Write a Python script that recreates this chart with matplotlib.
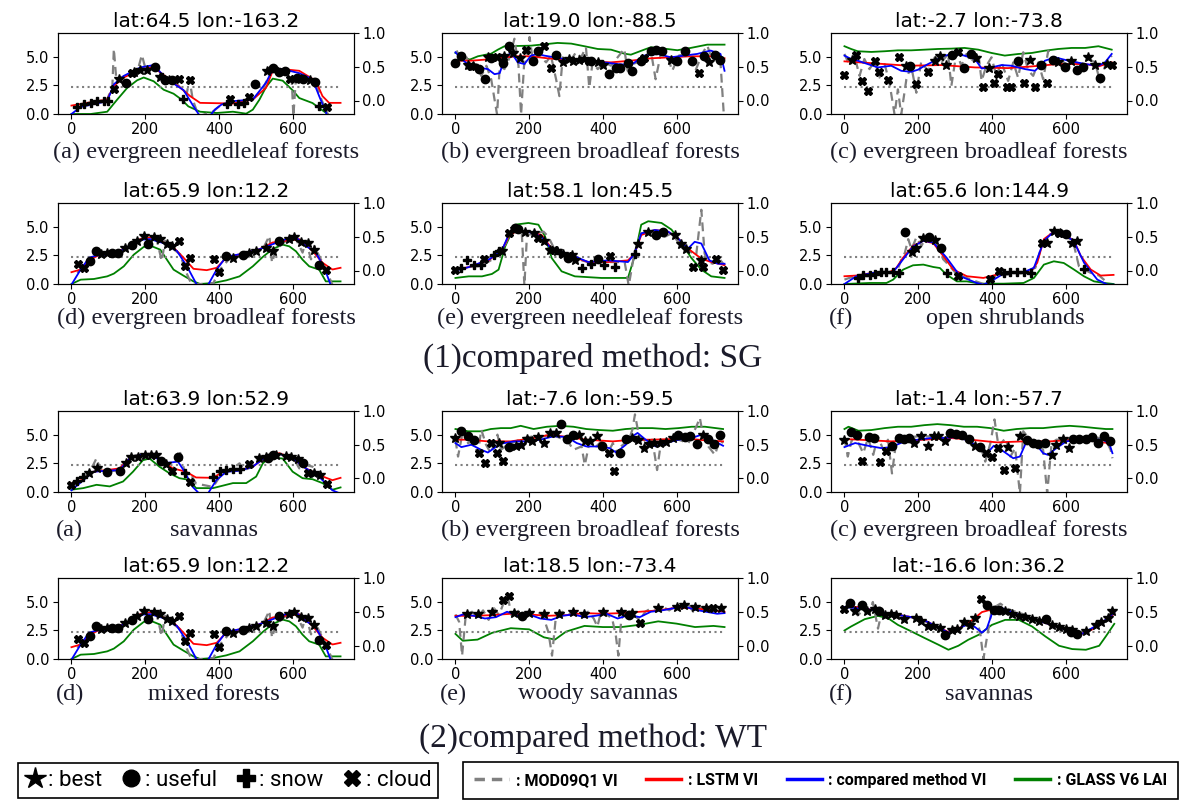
import matplotlib
matplotlib.use('Agg')
import matplotlib.pyplot as plt
from matplotlib.lines import Line2D

# ---- (1) SG panels: (day, value) pairs; VI on the right axis, LAI on the left ----
sg_a_mod = [(16, -0.11), (43, -0.035), (79, -0.01), (97, 0.015), (111, 0.215), (115, 0.765), (122, 0.29), (135, 0.34),
            (155, 0.39), (178, 0.415), (191, 0.675), (200, 0.49), (223, 0.49), (241, 0.39), (259, 0.315), (277, 0.29),
            (299, 0.175), (313, 0.105), (320, 0.325), (329, 0.015), (345, -0.235), (385, -0.16), (403, -0.075),
            (438, -0.035), (492, 0.015), (520, 0.175), (539, 0.415), (557, 0.465), (584, 0.44), (597, 0.39),
            (602, -0.235), (609, 0.34), (638, 0.315), (665, 0.24), (678, 0.015), (696, -0.21), (710, -0.235)]
sg_a_lstm = [(0, -0.075), (97, 0.015), (115, 0.215), (142, 0.34), (187, 0.465), (223, 0.49), (259, 0.34), (295, 0.19),
             (322, 0.065), (349, -0.035), (438, -0.045), (492, 0.015), (528, 0.19), (546, 0.44), (573, 0.465),
             (618, 0.44), (663, 0.29), (681, 0.065), (699, -0.035), (730, -0.035)]
sg_a_cmp = [(0, -0.2), (25, -0.095), (97, -0.01), (115, 0.24), (142, 0.365), (187, 0.49), (223, 0.525), (259, 0.315),
            (304, 0.155), (331, -0.085), (349, -0.235), (371, -0.26), (389, -0.135), (407, -0.06), (438, -0.01),
            (492, 0.015), (528, 0.265), (546, 0.465), (573, 0.465), (618, 0.405), (654, 0.315), (672, 0.065),
            (695, -0.235), (730, -0.26)]
sg_a_lai = [(0, 0), (52, 0), (97, 0.2), (124, 1.26), (151, 2.28), (178, 2.95), (196, 3.2), (223, 2.87), (250, 2.13),
            (277, 1.78), (299, 1.26), (317, 0.67), (349, 0.2), (394, 0.09), (438, 0.2), (474, 0.03), (492, 0.38),
            (510, 1.26), (528, 2.37), (546, 3.1), (573, 2.92), (600, 2.08), (618, 1.4), (654, 0.96), (672, 0.53),
            (695, 0)]
sg_a_best = [(129, 0.315), (169, 0.415), (187, 0.445), (205, 0.45), (241, 0.355), (264, 0.3), (530, 0.44),
             (548, 0.465), (624, 0.315), (647, 0.305)]
sg_a_useful = [(147, 0.265), (226, 0.49), (255, 0.3), (273, 0.3), (498, 0.24), (548, 0.48), (564, 0.415),
               (579, 0.43), (611, 0.33), (629, 0.315), (660, 0.275)]
sg_a_snow = [(16, -0.095), (34, -0.045), (52, -0.035), (70, -0.01), (88, -0.01), (99, -0.01), (246, 0.355),
             (303, 0.015), (422, -0.045), (451, -0.045), (467, -0.035), (672, -0.075)]
sg_a_cloud = [(115, 0.165), (164, 0.405), (291, 0.315), (322, 0.305), (431, 0.015), (483, 0.055), (594, 0.315),
              (692, -0.095)]

sg_b_mod = [(3, 0.74), (16, 0.59), (30, 0.64), (43, 0.49), (57, 0.54), (70, 0.365), (84, 0.515), (97, 0.315),
            (106, 0.015), (113, -0.21), (120, 0.515), (133, 0.465), (147, 0.64), (160, 0.915), (171, 0.515),
            (178, -0.21), (186, 0.515), (195, 0.665), (201, 0.94), (210, 0.59), (228, 0.665), (246, 0.565),
            (259, 0.665), (273, 0.315), (282, 0.065), (291, 0.64), (309, 0.565), (327, 0.715), (341, 0.64),
            (354, 0.79), (363, 0.19), (372, 0.565), (386, 0.465), (404, 0.565), (422, 0.515), (440, 0.64),
            (458, 0.765), (467, 0.44), (480, 0.54), (494, 0.565), (512, 0.64), (530, 0.74), (543, 0.315),
            (557, 0.69), (575, 0.665), (588, 0.44), (606, 0.665), (624, 0.69), (638, 0.64), (651, 0.44),
            (669, 0.69), (683, 0.815), (696, 0.615), (710, 0.715), (719, 0.565), (728, -0.21)]
sg_b_lstm = [(0, 0.59), (43, 0.59), (79, 0.605), (133, 0.64), (169, 0.655), (205, 0.655), (250, 0.625), (295, 0.605),
             (331, 0.605), (376, 0.575), (422, 0.565), (476, 0.59), (530, 0.625), (584, 0.64), (638, 0.655),
             (692, 0.655), (730, 0.625)]
sg_b_cmp = [(0, 0.715), (16, 0.615), (39, 0.515), (61, 0.49), (88, 0.465), (106, 0.39), (120, 0.405), (133, 0.615),
            (151, 0.715), (169, 0.565), (187, 0.54), (205, 0.665), (223, 0.69), (241, 0.665), (268, 0.64),
            (295, 0.615), (331, 0.615), (367, 0.59), (403, 0.565), (440, 0.54), (476, 0.525), (512, 0.665),
            (548, 0.69), (584, 0.64), (620, 0.665), (656, 0.69), (692, 0.74), (719, 0.69), (730, 0.44)]
sg_b_lai = [(0, 5.35), (16, 5.29), (25, 4.91), (39, 4.77), (61, 5.06), (97, 5.29), (115, 5.64), (133, 5.94),
            (205, 5.99), (277, 6.23), (314, 6.17), (350, 5.94), (386, 5.7), (422, 5.64), (458, 5.29), (476, 5.2),
            (512, 5.64), (530, 5.85), (566, 5.73), (602, 5.59), (638, 5.79), (683, 6.08), (730, 6.08)]
sg_b_best = [(34, 0.525), (48, 0.515), (88, 0.64), (133, 0.655), (156, 0.705), (174, 0.625), (293, 0.575),
             (309, 0.615), (318, 0.59), (336, 0.605), (350, 0.615), (386, 0.565), (399, 0.53), (584, 0.6),
             (687, 0.575)]
sg_b_useful = [(0, 0.555), (16, 0.655), (64, 0.465), (81, 0.315), (97, 0.63), (129, 0.555), (145, 0.805),
               (210, 0.58), (225, 0.73), (273, 0.68), (368, 0.58), (417, 0.39), (435, 0.48), (447, 0.48),
               (467, 0.555), (480, 0.43), (503, 0.58), (530, 0.73), (543, 0.755), (561, 0.73), (602, 0.59),
               (624, 0.73), (642, 0.59), (674, 0.665), (704, 0.68), (719, 0.605)]
sg_b_snow = []
sg_b_cloud = [(43, 0.515), (112, 0.64), (192, 0.755), (240, 0.805), (258, 0.48), (363, 0.59), (512, 0.625),
              (660, 0.405)]

sg_c_mod = [(0, 0.69), (14, 0.515), (27, 0.665), (41, 0.365), (54, 0.615), (68, 0.465), (82, 0.59), (95, 0.34),
            (109, 0.54), (122, 0.265), (136, -0.21), (145, 0.165), (154, -0.21), (168, 0.315), (181, 0.515),
            (195, 0.115), (208, 0.565), (227, 0.44), (245, 0.64), (263, 0.565), (281, 0.69), (290, 0.215),
            (304, 0.715), (317, 0.515), (331, 0.69), (344, 0.565), (363, 0.715), (372, 0.29), (385, 0.515),
            (399, 0.64), (412, 0.365), (426, 0.565), (444, 0.29), (458, 0.565), (471, 0.34), (485, 0.715),
            (499, 0.44), (512, 0.365), (526, 0.565), (539, 0.315), (553, 0.74), (571, 0.565), (589, 0.59),
            (607, 0.515), (626, 0.565), (644, 0.54), (662, 0.615), (680, 0.565), (694, 0.265), (707, 0.515),
            (725, 0.665)]
sg_c_lstm = [(0, 0.58), (82, 0.55), (172, 0.515), (263, 0.525), (354, 0.49), (444, 0.48), (508, 0.505), (580, 0.54),
             (653, 0.54), (689, 0.505), (725, 0.565)]
sg_c_cmp = [(0, 0.665), (18, 0.615), (36, 0.59), (63, 0.54), (91, 0.49), (127, 0.515), (154, 0.44), (181, 0.425),
            (199, 0.455), (218, 0.515), (245, 0.59), (272, 0.665), (299, 0.69), (326, 0.665), (354, 0.615),
            (372, 0.475), (399, 0.49), (426, 0.525), (453, 0.515), (490, 0.465), (517, 0.44), (544, 0.59),
            (571, 0.64), (607, 0.59), (653, 0.54), (689, 0.515), (707, 0.565), (725, 0.69)]
sg_c_lai = [(0, 5.94), (18, 5.7), (36, 5.5), (73, 5.44), (109, 5.5), (145, 5.58), (181, 5.58), (218, 5.64),
            (254, 5.7), (290, 5.73), (326, 5.79), (363, 5.64), (399, 5.35), (435, 5.12), (471, 5.26), (508, 5.35),
            (544, 5.55), (580, 5.7), (616, 5.79), (653, 5.79), (689, 5.94), (725, 5.64)]
sg_c_best = [(20, 0.605), (168, 0.515), (245, 0.585), (258, 0.655), (276, 0.53), (358, 0.63), (393, 0.475),
             (503, 0.605), (578, 0.565), (615, 0.59), (662, 0.64), (680, 0.53), (712, 0.54)]
sg_c_useful = [(179, 0.515), (292, 0.675), (324, 0.475), (342, 0.69), (471, 0.59), (533, 0.525), (565, 0.605),
               (598, 0.49), (630, 0.45), (648, 0.49), (694, 0.33)]
sg_c_snow = []
sg_c_cloud = [(0, 0.38), (32, 0.675), (48, 0.29), (65, 0.14), (84, 0.59), (95, 0.425), (118, 0.305), (147, 0.64),
              (195, 0.24), (228, 0.415), (308, 0.715), (376, 0.205), (406, 0.255), (417, 0.4), (442, 0.205),
              (451, 0.205), (488, 0.255), (517, 0.205), (549, 0.265), (725, 0.52)]

sg_d_mod = [(16, -0.035), (43, 0.14), (70, 0.225), (115, 0.24), (151, 0.355), (187, 0.465), (205, 0.49), (232, 0.44),
            (245, 0.14), (254, 0.44), (277, 0.315), (295, 0.24), (308, 0.015), (326, -0.21), (385, -0.185),
            (403, 0.015), (431, 0.19), (474, 0.24), (519, 0.315), (537, 0.515), (544, 0.115), (555, 0.315),
            (582, 0.44), (609, 0.465), (627, 0.265), (636, 0.44), (650, 0.165), (659, 0.365), (672, 0.215),
            (690, 0.015), (708, -0.21)]
sg_d_lstm = [(0, -0.025), (25, 0.015), (52, 0.165), (79, 0.24), (115, 0.255), (151, 0.34), (187, 0.465), (214, 0.49),
             (241, 0.44), (277, 0.34), (304, 0.19), (331, 0.025), (367, 0.005), (394, 0.04), (420, 0.19),
             (456, 0.24), (510, 0.315), (546, 0.415), (582, 0.44), (618, 0.465), (654, 0.29), (681, 0.115),
             (708, 0.015), (730, 0.04)]
sg_d_cmp = [(0, -0.21), (25, 0.015), (48, 0.19), (70, 0.225), (115, 0.24), (151, 0.34), (187, 0.455), (214, 0.465),
            (250, 0.405), (286, 0.29), (313, 0.065), (340, -0.21), (349, -0.285), (371, -0.21), (394, 0.015),
            (420, 0.205), (456, 0.24), (510, 0.315), (546, 0.39), (582, 0.465), (609, 0.49), (636, 0.365),
            (663, 0.265), (686, 0.04), (703, -0.21), (730, -0.285)]
sg_d_lai = [(0, 0), (25, 0.38), (61, 0.44), (97, 0.67), (115, 0.91), (142, 1.55), (169, 2.57), (196, 3.25),
            (214, 3.36), (241, 3.01), (259, 2.13), (277, 1.26), (304, 0.73), (331, 0.23), (349, 0), (385, 0.09),
            (420, 0.32), (456, 0.67), (492, 1.55), (519, 2.37), (546, 3.07), (573, 3.45), (591, 3.3), (609, 2.87),
            (627, 2.13), (645, 1.55), (672, 1.26), (690, 0.23), (730, 0.23)]
sg_d_best = [(79, 0.24), (97, 0.255), (146, 0.34), (178, 0.44), (196, 0.515), (223, 0.49), (241, 0.465),
             (259, 0.39), (272, 0.365), (438, 0.19), (483, 0.255), (501, 0.29), (528, 0.34), (546, 0.29),
             (591, 0.465), (605, 0.49), (623, 0.425), (641, 0.405), (659, 0.3)]
sg_d_useful = [(49, 0.14), (66, 0.29), (111, 0.265), (126, 0.265), (164, 0.375), (209, 0.39), (420, 0.215),
               (465, 0.225), (564, 0.44), (672, 0.08)]
sg_d_snow = []
sg_d_cloud = [(18, 0.1), (34, 0.04), (292, 0.43), (308, 0.065), (322, 0.19), (386, 0.165), (401, -0.02),
              (690, 0.005)]

sg_e_mod = [(0, 0), (36, 0.05), (72, 0.075), (99, 0.16), (126, 0.275), (144, 0.5), (162, 0.625), (180, 0.55),
            (187, -0.225), (194, 0.525), (216, 0.55), (239, 0.575), (252, 0.5), (270, 0.3), (288, 0.25),
            (311, 0.275), (324, 0.175), (360, 0.125), (414, 0.125), (459, 0.125), (470, -0.225), (486, 0.275),
            (504, 0.55), (541, 0.575), (568, 0.5), (586, 0.55), (604, 0.425), (631, 0.3), (653, 0.225),
            (667, 0.9), (676, 0.25), (685, 0.125), (698, 0.1), (712, 0.2), (730, 0.075)]
sg_e_lstm = [(0, 0.015), (36, 0.05), (90, 0.15), (126, 0.3), (144, 0.5), (162, 0.575), (198, 0.575), (234, 0.525),
             (261, 0.325), (306, 0.225), (360, 0.125), (414, 0.125), (468, 0.15), (486, 0.25), (504, 0.525),
             (541, 0.6), (577, 0.575), (604, 0.475), (631, 0.325), (667, 0.175), (694, 0.125), (730, 0.08)]
sg_e_cmp = [(0, 0), (36, 0.05), (90, 0.16), (126, 0.3), (144, 0.525), (162, 0.6), (198, 0.575), (234, 0.5),
            (261, 0.31), (306, 0.25), (360, 0.125), (414, 0.15), (468, 0.125), (486, 0.25), (504, 0.55), (541, 0.6),
            (577, 0.575), (604, 0.475), (631, 0.325), (649, 0.425), (667, 0.4), (689, 0.15), (712, 0.1), (730, 0.1)]
sg_e_lai = [(0, 0.53), (36, 0.67), (72, 0.67), (99, 0.88), (117, 1.26), (135, 3.3), (162, 5.2), (198, 5.35),
            (225, 5.2), (243, 4.18), (261, 2.28), (288, 1.11), (324, 0.67), (396, 0.53), (468, 0.53), (486, 2.43),
            (504, 5.2), (523, 5.5), (559, 5.35), (586, 4.77), (613, 3.6), (640, 2.28), (667, 1.26), (694, 0.67),
            (730, 0.53)]
sg_e_best = [(126, 0.29), (162, 0.61), (189, 0.575), (212, 0.55), (239, 0.44), (257, 0.3), (275, 0.29),
             (293, 0.25), (315, 0.225), (324, 0.15), (495, 0.39), (523, 0.575), (595, 0.525), (613, 0.4),
             (626, 0.325), (667, 0.15)]
sg_e_useful = [(162, 0.625), (171, 0.61), (304, 0.19), (387, 0.175), (545, 0.525), (563, 0.565)]
sg_e_snow = [(14, 0.04), (32, 0.15), (50, 0.075), (68, 0.075), (104, 0.225), (117, 0.29), (284, 0.26), (342, 0.04),
             (369, 0.1), (404, 0.075), (432, 0.05), (486, 0.25)]
sg_e_cloud = [(0, 0.01), (77, 0.175), (144, 0.56), (225, 0.475), (266, 0.3), (306, 0.21), (419, 0.21), (644, 0.05),
              (671, 0.05), (707, 0.175), (725, 0.01)]

sg_f_mod = [(0, -0.135), (32, -0.075), (86, -0.045), (141, -0.025), (155, 0.165), (164, 0.265), (173, 0.465),
            (182, 0.315), (195, 0.49), (209, 0.365), (223, 0.515), (241, 0.44), (255, 0.34), (268, 0.165),
            (286, 0.065), (305, -0.06), (377, -0.2), (414, -0.075), (486, -0.035), (518, 0.04), (536, 0.39),
            (559, 0.54), (586, 0.565), (605, 0.515), (623, 0.365), (636, 0.065), (650, 0.015), (668, -0.035),
            (691, -0.075), (709, -0.16)]
sg_f_lstm = [(0, -0.085), (32, -0.075), (77, -0.035), (123, -0.025), (141, 0.04), (159, 0.19), (186, 0.365),
             (214, 0.44), (241, 0.405), (268, 0.215), (295, 0.015), (332, -0.085), (377, -0.11), (414, -0.06),
             (450, -0.025), (505, -0.025), (523, 0.115), (541, 0.465), (568, 0.575), (595, 0.54), (623, 0.44),
             (641, 0.215), (668, 0.015), (695, -0.075), (730, -0.065)]
sg_f_cmp = [(0, -0.2), (32, -0.085), (77, -0.035), (132, -0.025), (159, 0.165), (186, 0.355), (214, 0.44),
            (241, 0.415), (277, 0.19), (314, -0.085), (359, -0.185), (377, -0.21), (405, -0.135), (432, -0.045),
            (486, -0.025), (514, 0.04), (541, 0.44), (568, 0.575), (595, 0.555), (623, 0.425), (650, 0.115),
            (686, -0.135), (714, -0.21), (730, -0.21)]
sg_f_lai = [(0, 0), (68, 0.09), (114, 0.09), (132, 0.38), (159, 1.26), (186, 1.64), (214, 1.7), (241, 1.49),
            (259, 1.4), (277, 0.82), (305, 0.23), (332, 0.23), (368, 0.03), (432, 0.03), (486, 0.09), (514, 0.53),
            (541, 1.7), (568, 1.99), (595, 1.84), (623, 1.26), (650, 0.67), (677, 0.23), (705, 0.09), (730, 0)]
sg_f_best = [(182, 0.275), (195, 0.34), (214, 0.48), (245, 0.45), (550, 0.405), (568, 0.59), (586, 0.555),
             (618, 0.405), (632, 0.44)]
sg_f_useful = [(165, 0.565), (230, 0.49), (262, 0.33), (600, 0.54)]
sg_f_snow = [(36, -0.11), (50, -0.06), (68, -0.06), (82, -0.05), (100, -0.025), (114, -0.025), (132, -0.025),
             (148, -0.035), (277, -0.035), (432, -0.035), (450, -0.025), (468, -0.025), (486, -0.025),
             (505, -0.035), (650, 0.015)]
sg_f_cloud = [(309, -0.075), (394, -0.125), (418, -0.01), (536, 0.405), (582, 0.555)]

# ---- (2) WT panels ----
wt_a_mod = [(0, -0.125), (32, -0.015), (59, 0.2), (68, 0.3), (77, 0.15), (95, 0.1), (131, 0.125), (158, 0.3),
            (185, 0.365), (221, 0.35), (248, 0.225), (275, 0.125), (293, 0.425), (307, 0.1), (325, 0.05),
            (338, -0.075), (384, -0.125), (402, 0.025), (438, 0.15), (456, 0.225), (469, 0.125), (492, 0.175),
            (528, 0.325), (555, 0.375), (582, 0.3), (600, 0.325), (618, 0.15), (636, 0.2), (654, 0.175),
            (672, 0.05), (699, -0.125)]
wt_a_lstm = [(0, -0.075), (32, -0.015), (59, 0.1), (95, 0.125), (131, 0.15), (158, 0.3), (185, 0.35), (221, 0.35),
             (248, 0.25), (275, 0.15), (311, 0.1), (338, 0.015), (384, 0.01), (411, 0.1), (456, 0.125), (492, 0.175),
             (528, 0.325), (564, 0.375), (600, 0.3), (636, 0.15), (672, 0.05), (708, -0.025), (730, 0.01)]
wt_a_cmp = [(0, -0.175), (32, -0.025), (59, 0.1), (95, 0.115), (131, 0.125), (158, 0.3), (185, 0.35), (221, 0.35),
            (248, 0.225), (266, 0.235), (289, 0.25), (307, 0.1), (329, -0.125), (347, -0.225), (370, -0.225),
            (393, -0.025), (420, 0.1), (456, 0.115), (492, 0.175), (528, 0.325), (564, 0.365), (600, 0.3),
            (636, 0.15), (672, 0.025), (708, -0.175), (730, -0.225)]
wt_a_lai = [(0, 0.2), (32, 0.34), (68, 0.63), (104, 0.49), (140, 0.92), (167, 1.78), (194, 2.79), (212, 2.93),
            (239, 2.21), (266, 1.64), (293, 1.21), (320, 1.06), (338, 0.34), (384, 0.34), (438, 0.78), (474, 0.78),
            (501, 1.35), (519, 2.5), (537, 3.07), (573, 2.93), (600, 1.78), (627, 1.21), (654, 1.12), (681, 0.78),
            (708, 0.2), (730, 0.4)]
wt_a_best = [(48, 0.085), (68, 0.15), (149, 0.235), (162, 0.325), (181, 0.315), (199, 0.35), (217, 0.35),
             (230, 0.35), (257, 0.215), (510, 0.3), (528, 0.325), (555, 0.35), (582, 0.335), (596, 0.315),
             (614, 0.285), (659, 0.075), (675, 0.055)]
wt_a_useful = [(97, 0.1), (131, 0.11), (242, 0.265), (290, 0.325), (532, 0.3), (546, 0.35), (627, 0.235)]
wt_a_snow = [(15, -0.035), (32, 0.015), (307, 0.085), (384, 0.025), (402, 0.115), (420, 0.125), (438, 0.135),
             (456, 0.135)]
wt_a_cloud = [(0, -0.1), (273, 0.115), (322, -0.05), (481, 0.215), (643, 0.075), (693, -0.075)]

wt_b_mod = [(0, 0.575), (7, 0.325), (21, 0.725), (34, 0.525), (47, 0.55), (61, 0.375), (70, 0.725), (83, 0.5),
            (96, 0.375), (114, 0.65), (123, 0.425), (141, 0.5), (163, 0.55), (186, 0.6), (212, 0.625), (239, 0.625),
            (262, 0.65), (284, 0.6), (302, 0.575), (320, 0.425), (342, 0.475), (351, 0.2), (364, 0.55),
            (382, 0.475), (400, 0.575), (413, 0.375), (427, 0.525), (440, 0.35), (449, 0.475), (471, 0.575),
            (480, 0.725), (487, 0.95), (498, 0.625), (516, 0.55), (534, 0.575), (547, 0.125), (556, 0.475),
            (579, 0.55), (605, 0.575), (632, 0.525), (654, 0.775), (663, 0.9), (672, 0.625), (686, 0.475),
            (704, 0.35), (717, 0.575), (726, 0.525)]
wt_b_lstm = [(0, 0.575), (34, 0.575), (88, 0.55), (150, 0.55), (212, 0.6), (257, 0.65), (302, 0.615), (355, 0.575),
             (427, 0.55), (480, 0.575), (534, 0.575), (588, 0.585), (641, 0.585), (677, 0.565), (726, 0.55)]
wt_b_cmp = [(0, 0.525), (16, 0.465), (43, 0.5), (70, 0.425), (88, 0.385), (105, 0.45), (123, 0.515), (159, 0.55),
            (195, 0.55), (230, 0.575), (266, 0.625), (302, 0.615), (329, 0.525), (355, 0.475), (391, 0.475),
            (418, 0.45), (436, 0.385), (462, 0.5), (480, 0.625), (494, 0.675), (516, 0.575), (543, 0.475),
            (570, 0.525), (605, 0.575), (641, 0.6), (668, 0.65), (695, 0.575), (726, 0.485)]
wt_b_lai = [(0, 5.52), (16, 5.43), (34, 5.32), (70, 5.32), (96, 5.52), (123, 5.6), (150, 5.6), (177, 5.8),
            (212, 5.52), (248, 5.72), (284, 5.8), (320, 5.72), (355, 5.52), (391, 5.43), (427, 5.37), (462, 5.52),
            (498, 5.6), (534, 5.6), (570, 5.52), (605, 5.6), (641, 5.72), (677, 5.72), (726, 5.52)]
wt_b_best = [(0, 0.6), (119, 0.52), (163, 0.485), (177, 0.49), (195, 0.585), (208, 0.56), (223, 0.615), (239, 0.52),
             (257, 0.675), (272, 0.675), (335, 0.65), (351, 0.56), (364, 0.56), (384, 0.635), (480, 0.6),
             (494, 0.565), (512, 0.45), (525, 0.515), (538, 0.525), (556, 0.525), (570, 0.535), (589, 0.6),
             (672, 0.65)]
wt_b_useful = [(16, 0.71), (34, 0.625), (50, 0.565), (146, 0.465), (287, 0.8), (302, 0.59), (320, 0.65),
               (398, 0.475), (446, 0.385), (462, 0.585), (605, 0.65), (623, 0.615), (637, 0.635), (654, 0.51),
               (686, 0.59), (702, 0.515), (717, 0.65)]
wt_b_snow = []
wt_b_cloud = [(65, 0.375), (81, 0.235), (96, 0.525), (113, 0.375), (128, 0.265), (416, 0.385), (429, 0.11)]

wt_c_mod = [(0, 0.6), (9, 0.325), (20, 0.575), (38, 0.525), (51, 0.375), (64, 0.6), (78, 0.35), (91, 0.625),
            (105, 0.425), (118, 0.575), (129, 0.075), (141, 0.575), (163, 0.6), (199, 0.625), (235, 0.625),
            (270, 0.6), (297, 0.65), (324, 0.6), (351, 0.5), (369, 0.475), (382, 0.25), (396, 0.525), (407, 0.875),
            (418, 0.475), (437, 0.6), (450, 0.325), (463, 0.45), (476, -0.225), (485, 0.7), (503, 0.575),
            (525, 0.55), (539, 0.425), (550, -0.225), (562, 0.525), (575, 0.575), (602, 0.575), (628, 0.6),
            (664, 0.625), (691, 0.6), (709, 0.575), (722, 0.425), (727, 0.3)]
wt_c_lstm = [(0, 0.585), (38, 0.575), (127, 0.55), (217, 0.575), (288, 0.6), (342, 0.575), (414, 0.535),
             (485, 0.55), (557, 0.55), (628, 0.575), (682, 0.55), (727, 0.515)]
wt_c_cmp = [(0, 0.465), (29, 0.525), (64, 0.485), (100, 0.45), (127, 0.465), (163, 0.55), (199, 0.575), (235, 0.6),
            (270, 0.6), (306, 0.615), (342, 0.55), (369, 0.425), (387, 0.375), (405, 0.485), (432, 0.4), (458, 0.3),
            (476, 0.325), (494, 0.55), (521, 0.5), (539, 0.375), (552, 0.35), (575, 0.45), (602, 0.55),
            (637, 0.575), (673, 0.575), (700, 0.575), (718, 0.525), (727, 0.375)]
wt_c_lai = [(0, 5.52), (11, 5.72), (38, 5.37), (73, 5.43), (109, 5.6), (145, 5.72), (181, 5.72), (217, 5.86),
            (252, 5.95), (288, 5.86), (324, 5.72), (360, 5.72), (396, 5.6), (432, 5.37), (467, 5.52), (503, 5.6),
            (539, 5.6), (575, 5.72), (611, 5.8), (646, 5.72), (682, 5.6), (709, 5.52), (727, 5.52)]
wt_c_best = [(0, 0.575), (190, 0.525), (208, 0.625), (226, 0.485), (242, 0.635), (254, 0.635), (272, 0.55),
             (353, 0.485), (445, 0.465), (476, 0.625), (562, 0.35), (575, 0.5), (593, 0.59), (609, 0.45)]
wt_c_useful = [(18, 0.69), (33, 0.65), (66, 0.61), (81, 0.6), (129, 0.485), (147, 0.6), (161, 0.585), (176, 0.6),
               (287, 0.675), (302, 0.66), (320, 0.64), (337, 0.59), (369, 0.465), (496, 0.565), (512, 0.525),
               (525, 0.515), (543, 0.525), (620, 0.585), (637, 0.59), (655, 0.585), (671, 0.615), (687, 0.525),
               (703, 0.625), (721, 0.55)]
wt_c_snow = []
wt_c_cloud = [(47, 0.26), (96, 0.25), (114, 0.41), (385, 0.375), (400, 0.315), (417, 0.45), (432, 0.125),
              (463, 0.16)]

wt_e_mod = [(0, 0.46), (10, 0.35), (18, -0.15), (28, 0.45), (45, 0.5), (60, 0.42), (75, 0.52), (90, 0.38),
            (105, 0.55), (118, 0.45), (130, 0.62), (142, 0.72), (152, 0.45), (165, 0.55), (180, 0.42), (195, 0.5),
            (210, 0.46), (225, 0.5), (240, 0.4), (252, 0.2), (262, -0.15), (272, 0.4), (290, 0.5), (305, 0.44),
            (320, 0.52), (340, 0.45), (360, 0.5), (375, 0.4), (385, 0.28), (395, 0.5), (410, 0.46), (425, 0.4),
            (435, 0.15), (442, -0.15), (450, 0.4), (465, 0.5), (480, 0.46), (500, 0.38), (515, 0.5), (530, 0.55),
            (545, 0.5), (560, 0.58), (580, 0.52), (600, 0.6), (615, 0.55), (630, 0.62), (645, 0.5), (660, 0.58),
            (680, 0.5), (700, 0.56), (715, 0.5), (730, 0.53)]
wt_e_lstm = [(0, 0.44), (50, 0.44), (100, 0.45), (150, 0.47), (200, 0.46), (250, 0.44), (300, 0.45), (350, 0.48),
             (400, 0.47), (450, 0.48), (500, 0.5), (550, 0.52), (600, 0.56), (650, 0.55), (700, 0.52), (730, 0.5)]
wt_e_cmp = [(0, 0.42), (20, 0.46), (50, 0.44), (80, 0.4), (110, 0.42), (140, 0.5), (170, 0.44), (200, 0.46),
            (230, 0.4), (260, 0.38), (290, 0.44), (320, 0.46), (350, 0.42), (380, 0.44), (410, 0.47), (440, 0.4),
            (470, 0.45), (500, 0.42), (530, 0.5), (560, 0.52), (590, 0.55), (620, 0.58), (650, 0.53), (680, 0.5),
            (710, 0.47), (730, 0.48)]
wt_e_lai = [(0, 2.2), (20, 1.6), (60, 1.7), (100, 2.3), (150, 2.7), (200, 2.6), (240, 1.9), (270, 1.7), (300, 2.4),
            (350, 2.9), (400, 2.8), (450, 2.8), (500, 3.0), (550, 3.3), (600, 3.1), (650, 2.8), (700, 2.9),
            (730, 2.8)]
wt_e_best = [(30, 0.47), (60, 0.46), (100, 0.5), (160, 0.48), (200, 0.48), (240, 0.46), (280, 0.46), (320, 0.5),
             (350, 0.47), (400, 0.5), (450, 0.5), (480, 0.48), (550, 0.55), (600, 0.57), (620, 0.6), (650, 0.57),
             (680, 0.55), (720, 0.55)]
wt_e_useful = [(180, 0.44), (470, 0.45)]
wt_e_snow = []
wt_e_cloud = [(130, 0.68), (145, 0.73), (500, 0.33), (700, 0.56)]

wt_f_mod = [(0, 0.545), (18, 0.595), (36, 0.445), (50, 0.52), (68, 0.47), (77, 0.645), (91, 0.25), (100, 0.47),
            (127, 0.485), (164, 0.435), (200, 0.395), (236, 0.32), (273, 0.225), (300, 0.25), (327, 0.295),
            (355, 0.435), (368, 0.2), (377, -0.2), (386, 0.1), (400, 0.545), (423, 0.62), (445, 0.535), (482, 0.47),
            (518, 0.395), (555, 0.32), (591, 0.255), (627, 0.19), (655, 0.21), (682, 0.27), (709, 0.37),
            (732, 0.47)]
wt_f_lstm = [(0, 0.57), (36, 0.57), (73, 0.53), (109, 0.485), (145, 0.455), (182, 0.42), (218, 0.37), (255, 0.27),
             (282, 0.2), (309, 0.25), (345, 0.37), (373, 0.495), (400, 0.535), (436, 0.52), (473, 0.455),
             (509, 0.395), (545, 0.335), (582, 0.27), (618, 0.2), (645, 0.175), (673, 0.24), (700, 0.345),
             (732, 0.47)]
wt_f_cmp = [(0, 0.57), (73, 0.53), (109, 0.485), (182, 0.42), (218, 0.37), (255, 0.27), (282, 0.19), (309, 0.25),
            (336, 0.32), (355, 0.27), (373, 0.19), (386, 0.25), (400, 0.47), (418, 0.57), (436, 0.535), (473, 0.455),
            (545, 0.335), (618, 0.2), (645, 0.175), (700, 0.345), (732, 0.485)]
wt_f_lai = [(0, 2.5), (18, 2.85), (55, 3.49), (91, 3.78), (118, 3.58), (145, 2.99), (182, 2.41), (218, 1.83),
            (255, 1.25), (282, 0.81), (309, 1.16), (336, 1.69), (364, 2.12), (400, 2.99), (436, 3.43), (473, 3.43),
            (509, 2.85), (545, 1.98), (582, 1.16), (618, 0.87), (655, 0.81), (691, 1.16), (709, 1.98), (732, 3.08)]
wt_f_best = [(29, 0.505), (62, 0.505), (82, 0.545), (109, 0.455), (127, 0.47), (141, 0.455), (162, 0.395),
             (193, 0.405), (209, 0.37), (227, 0.285), (241, 0.295), (259, 0.255), (291, 0.225), (305, 0.25),
             (323, 0.355), (341, 0.305), (355, 0.405), (436, 0.505), (455, 0.47), (473, 0.435), (491, 0.42),
             (509, 0.395), (527, 0.37), (564, 0.305), (582, 0.27), (600, 0.245), (618, 0.225), (655, 0.21),
             (682, 0.305), (695, 0.355), (714, 0.405), (727, 0.505)]
wt_f_useful = [(14, 0.635), (47, 0.595), (95, 0.51), (273, 0.15), (386, 0.605), (405, 0.53), (418, 0.52),
               (548, 0.395), (614, 0.2), (632, 0.175)]
wt_f_snow = []
wt_f_cloud = [(0, 0.545), (371, 0.695)]

titles = ['lat:64.5 lon:-163.2', 'lat:19.0 lon:-88.5', 'lat:-2.7 lon:-73.8',
          'lat:65.9 lon:12.2', 'lat:58.1 lon:45.5', 'lat:65.6 lon:144.9',
          'lat:63.9 lon:52.9', 'lat:-7.6 lon:-59.5', 'lat:-1.4 lon:-57.7',
          'lat:65.9 lon:12.2', 'lat:18.5 lon:-73.4', 'lat:-16.6 lon:36.2']
letters = ['(a)', '(b)', '(c)', '(d)', '(e)', '(f)'] * 2
classes = ['evergreen needleleaf forests', 'evergreen broadleaf forests', 'evergreen broadleaf forests',
           'evergreen broadleaf forests', 'evergreen needleleaf forests', 'open shrublands',
           'savannas', 'evergreen broadleaf forests', 'evergreen broadleaf forests',
           'mixed forests', 'woody savannas', 'savannas']
sections = ['(1)compared method: SG', '(2)compared method: WT']
qa_labels = [': best', ': useful', ': snow', ': cloud']
line_labels = [': MOD09Q1 VI', ': LSTM VI', ': compared method VI', ': GLASS V6 LAI']

# panel table: (mod, lstm, compared, lai, best, useful, snow, cloud)
panels = [
    (sg_a_mod, sg_a_lstm, sg_a_cmp, sg_a_lai, sg_a_best, sg_a_useful, sg_a_snow, sg_a_cloud),
    (sg_b_mod, sg_b_lstm, sg_b_cmp, sg_b_lai, sg_b_best, sg_b_useful, sg_b_snow, sg_b_cloud),
    (sg_c_mod, sg_c_lstm, sg_c_cmp, sg_c_lai, sg_c_best, sg_c_useful, sg_c_snow, sg_c_cloud),
    (sg_d_mod, sg_d_lstm, sg_d_cmp, sg_d_lai, sg_d_best, sg_d_useful, sg_d_snow, sg_d_cloud),
    (sg_e_mod, sg_e_lstm, sg_e_cmp, sg_e_lai, sg_e_best, sg_e_useful, sg_e_snow, sg_e_cloud),
    (sg_f_mod, sg_f_lstm, sg_f_cmp, sg_f_lai, sg_f_best, sg_f_useful, sg_f_snow, sg_f_cloud),
    (wt_a_mod, wt_a_lstm, wt_a_cmp, wt_a_lai, wt_a_best, wt_a_useful, wt_a_snow, wt_a_cloud),
    (wt_b_mod, wt_b_lstm, wt_b_cmp, wt_b_lai, wt_b_best, wt_b_useful, wt_b_snow, wt_b_cloud),
    (wt_c_mod, wt_c_lstm, wt_c_cmp, wt_c_lai, wt_c_best, wt_c_useful, wt_c_snow, wt_c_cloud),
    # same pixel as (1)(d)
    (sg_d_mod, sg_d_lstm, sg_d_cmp, sg_d_lai, sg_d_best, sg_d_useful, sg_d_snow, sg_d_cloud),
    (wt_e_mod, wt_e_lstm, wt_e_cmp, wt_e_lai, wt_e_best, wt_e_useful, wt_e_snow, wt_e_cloud),
    (wt_f_mod, wt_f_lstm, wt_f_cmp, wt_f_lai, wt_f_best, wt_f_useful, wt_f_snow, wt_f_cloud),
]

W, H = 1192, 801
COL_LEFT = [58, 442, 831]
ROW_TOP = [33, 203, 411, 578]
CAPTION_Y = [152, 318, 530, 694]
AX_W, AX_H = 296, 81
SERIF = 'Liberation Serif'
INK = '#1b1b2a'
# panels whose caption letter sits apart from the class name
SPLIT_CAPTION = {5: 26, 6: 8, 9: 8, 10: 8, 11: 10}

marker_styles = [('*', 7.5), ('o', 6), ('P', 6), ('X', 6)]


def xy(pairs):
    return [p[0] for p in pairs], [p[1] for p in pairs]


fig = plt.figure(figsize=(W / 100, H / 100), dpi=100)

for i, (mod, lstm, cmp_, lai, *qa) in enumerate(panels):
    row, col = divmod(i, 3)
    left, top = COL_LEFT[col], ROW_TOP[row]
    ax = fig.add_axes([left / W, 1 - (top + AX_H) / H, AX_W / W, AX_H / H])
    ax.plot(*xy(lai), color='green', lw=1.3)
    ax.set_xlim(-36.5, 766.5)
    ax.set_ylim(0, 7.1)
    ax.set_xticks([0, 200, 400, 600])
    ax.set_yticks([0, 2.5, 5.0])
    ax.tick_params(labelsize=10.5, length=3.5, pad=2.5)
    ax.set_title(titles[i], fontsize=14.5, pad=4)

    ax2 = ax.twinx()
    ax2.set_ylim(-0.2, 1.0)
    ax2.set_yticks([0.0, 0.5, 1.0])
    ax2.tick_params(labelsize=10.5, length=3.5, pad=2.5)
    ax2.hlines(0.2, 0, 730, colors='gray', linestyles=':', lw=1.5)
    ax2.plot(*xy(mod), color='gray', ls='--', lw=1.6, dashes=(4, 2.5))
    ax2.plot(*xy(lstm), color='red', lw=1.3)
    ax2.plot(*xy(cmp_), color='blue', lw=1.3)
    for pts, (m, ms) in zip(qa, marker_styles):
        if pts:
            ax2.plot(*xy(pts), ls='none', marker=m, ms=ms, color='black')

    cx = (left + AX_W / 2) / W
    cy = 1 - CAPTION_Y[row] / H
    if i in SPLIT_CAPTION:
        fig.text((left - 2) / W, cy, letters[i], ha='left', va='center',
                 fontsize=17.5, family=SERIF, color=INK)
        fig.text(cx + SPLIT_CAPTION[i] / W, cy, classes[i], ha='center', va='center',
                 fontsize=17.5, family=SERIF, color=INK)
    else:
        fig.text(cx, cy, f'{letters[i]} {classes[i]}', ha='center', va='center',
                 fontsize=17.5, family=SERIF, color=INK)

fig.text(593 / W, 1 - 358 / H, sections[0], ha='center', va='center', fontsize=24, family=SERIF, color=INK)
fig.text(593 / W, 1 - 738 / H, sections[1], ha='center', va='center', fontsize=24, family=SERIF, color=INK)

# quality-flag legend box
qa_handles = [Line2D([], [], ls='none', marker=m, ms=s, color='black')
              for m, s in [('*', 16), ('o', 12), ('P', 13), ('X', 12)]]
leg1 = fig.legend(qa_handles, qa_labels, loc='center', bbox_to_anchor=(7 / W, 1 / H, 442 / W, 39 / H),
                  mode='expand', ncol=4, handlelength=0.9, handletextpad=0.15, borderpad=0.3,
                  fancybox=False, edgecolor='black', framealpha=1,
                  prop={'family': ['Liberation Sans Narrow', 'Roboto', 'DejaVu Sans'], 'size': 16})
leg1.get_frame().set_linewidth(1.2)

line_handles = [Line2D([], [], color='gray', ls='--', lw=2.5, dashes=(3, 2)),
                Line2D([], [], color='red', lw=2.5),
                Line2D([], [], color='blue', lw=2.5),
                Line2D([], [], color='green', lw=2.5)]
leg2 = fig.legend(line_handles, line_labels, loc='center', bbox_to_anchor=(455 / W, 1 / H, 731 / W, 39 / H),
                  mode='expand', ncol=4, handlelength=2.2, handletextpad=0.4, borderpad=0.7,
                  fancybox=False, edgecolor='black', framealpha=1,
                  prop={'family': ['Liberation Sans Narrow', 'Roboto', 'DejaVu Sans'], 'size': 11.5,
                        'weight': 'bold'})
leg2.get_frame().set_linewidth(1.2)

fig.savefig('out.png', dpi=100)
